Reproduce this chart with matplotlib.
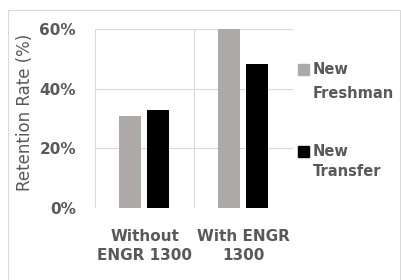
import numpy as np
import matplotlib.pyplot as plt
from matplotlib.patches import Rectangle

# data
categories = ["Without\nENGR 1300", "With ENGR\n1300"]
freshman = [30.8, 60.0]
transfer = [33.0, 48.2]
series_names = ["New\nFreshman", "New\nTransfer"]
colors = ["#aeaaaa", "#000000"]
yticks = [0, 20, 40, 60]

txt = "#595959"
grid = "#d9d9d9"
plt.rcParams['font.family'] = ['DejaVu Sans']

fig = plt.figure(figsize=(4.02, 2.80), dpi=100)
ax = fig.add_axes([95/402, 1-208/280, 198/402, 179/280])

x = np.arange(len(categories)) + 0.5
w = 0.22
ax.bar(x - 0.145, freshman, w, color=colors[0], zorder=3)
ax.bar(x + 0.135, transfer, w, color=colors[1], zorder=3)

ax.set_xlim(0, 2)
ax.set_ylim(0, 60)
ax.set_yticks(yticks)
ax.set_yticklabels([f"{v}%" for v in yticks], fontsize=11, fontweight='bold', color=txt)
ax.set_xticks(x)
ax.set_xticklabels(categories, fontsize=11, fontweight='bold', color=txt, linespacing=1.35)
ax.tick_params(axis='y', length=0, pad=13.7)
ax.tick_params(axis='x', length=0, pad=15)

for v in yticks:
    ax.axhline(v, color=grid, lw=0.8, zorder=1)
for v in [0, 1, 2]:
    ax.axvline(v, color=grid, lw=0.8, zorder=1)
for s in ax.spines.values():
    s.set_visible(False)

ax.set_ylabel("Retention Rate (%)", fontsize=12, color=txt, va='center')
ax.yaxis.set_label_coords(-0.355, 0.535)

# legend drawn as two separate entries like Excel
leg_y = [64, 146]
line_gap = [24, 20]
for name, c, y0, gap in zip(series_names, colors, leg_y, line_gap):
    fig.patches.append(Rectangle((298/402, 1-(y0+11)/280), 11/402, 11/280,
                                 transform=fig.transFigure, color=c))
    for k, part in enumerate(name.split("\n")):
        fig.text(313/402, 1-(y0+5.5+k*gap)/280, part, fontsize=10.5, fontweight='bold',
                 color=txt, va='center')

# outer chart border
fig.patches.append(Rectangle((8/402, -0.05), 392/402, 1 - 10/280 + 0.05,
                             transform=fig.transFigure, fill=False, ec=grid, lw=0.8))

fig.savefig("out.png", dpi=100)
